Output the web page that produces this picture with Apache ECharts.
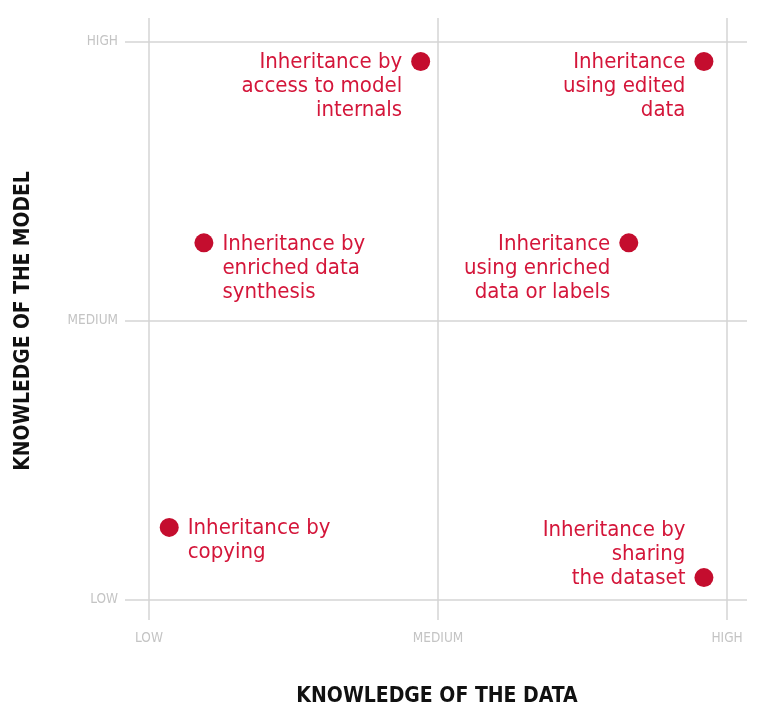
<!DOCTYPE html>
<html><head><meta charset="utf-8">
<script src="https://cdn.jsdelivr.net/npm/echarts@6/dist/echarts.min.js"></script>
<style>html,body{margin:0;padding:0;background:#fff}#c{width:763px;height:722px}</style>
</head><body><div id="c"></div>
<script>
// Tick labels (0 = LOW, 1 = MEDIUM, 2 = HIGH)
const tickLabels = ['LOW', 'MEDIUM', 'HIGH'];
const tickValues = [0, 1, 2];
// Point names
const names = [
  'Inheritance by\naccess to model\ninternals',
  'Inheritance\nusing edited\ndata',
  'Inheritance by\nenriched data\nsynthesis',
  'Inheritance\nusing enriched\ndata or labels',
  'Inheritance by\ncopying',
  'Inheritance by\nsharing\nthe dataset'
];
// Knowledge of the data (x) and of the model (y)
const dataKnowledge  = [0.94, 1.92, 0.19, 1.66, 0.07, 1.92];
const modelKnowledge = [1.93, 1.93, 1.28, 1.28, 0.26, 0.08];

// label placement (layout, not data)
const labelSide = ['left', 'left', 'right', 'left', 'right', 'left'];
const labelAnchor = ['top', 'top', 'top', 'top', 'top', 'bottom'];

const FONT = '"DejaVu Sans Condensed", "DejaVu Sans", sans-serif';
const RED = '#d4163a';
const DOT = '#c40d2e';
const GRIDC = '#d4d4d4';
const LH = 24;

const points = names.map((n, i) => ({
  value: [dataKnowledge[i], modelKnowledge[i]],
  name: n,
  label: {
    show: true,
    formatter: n,
    position: labelSide[i],
    distance: 9,
    align: labelSide[i] === 'left' ? 'right' : 'left',
    verticalAlign: labelAnchor[i],
    offset: [0, labelAnchor[i] === 'top' ? -LH / 2 + 1 : LH / 2 + 1],
    color: RED,
    fontFamily: FONT,
    fontSize: 22,
    lineHeight: LH
  }
}));

const chart = echarts.init(document.getElementById('c'), null, {renderer: 'canvas'});
chart.setOption({
  animation: false,
  grid: {left: 125, right: 16, top: 18, bottom: 102},
  xAxis: {
    type: 'value', min: -0.083, max: 2.069,
    axisLine: {show: false}, axisTick: {show: false}, splitLine: {show: false},
    axisLabel: {
      customValues: tickValues,
      formatter: v => tickLabels[Math.round(v)],
      color: '#c4c4c4', fontFamily: FONT, fontSize: 13.5, margin: 11
    }
  },
  yAxis: {
    type: 'value', min: -0.072, max: 2.086,
    axisLine: {show: false}, axisTick: {show: false}, splitLine: {show: false},
    axisLabel: {
      customValues: tickValues,
      formatter: v => tickLabels[Math.round(v)],
      color: '#c4c4c4', fontFamily: FONT, fontSize: 13.5, margin: 7
    }
  },
  series: [{
    type: 'scatter',
    symbolSize: 19,
    itemStyle: {color: DOT, opacity: 1},
    emphasis: {disabled: true},
    data: points,
    markLine: {
      silent: true,
      symbol: ['none', 'none'],
      label: {show: false},
      lineStyle: {color: GRIDC, width: 1.5, type: 'solid', opacity: 1},
      data: tickValues.map(v => ({xAxis: v})).concat(tickValues.map(v => ({yAxis: v}))),
      z: 1
    },
    z: 5
  }],
  graphic: [
    {type: 'text', x: 437, y: 697,
     style: {text: 'KNOWLEDGE OF THE DATA', font: 'bold 21px ' + FONT, fill: '#111',
             align: 'center', verticalAlign: 'middle'}},
    {type: 'text', x: 24, y: 321, rotation: Math.PI / 2,
     style: {text: 'KNOWLEDGE OF THE MODEL', font: 'bold 20.8px ' + FONT, fill: '#111',
             align: 'center', verticalAlign: 'middle'}}
  ]
});
</script></body></html>
